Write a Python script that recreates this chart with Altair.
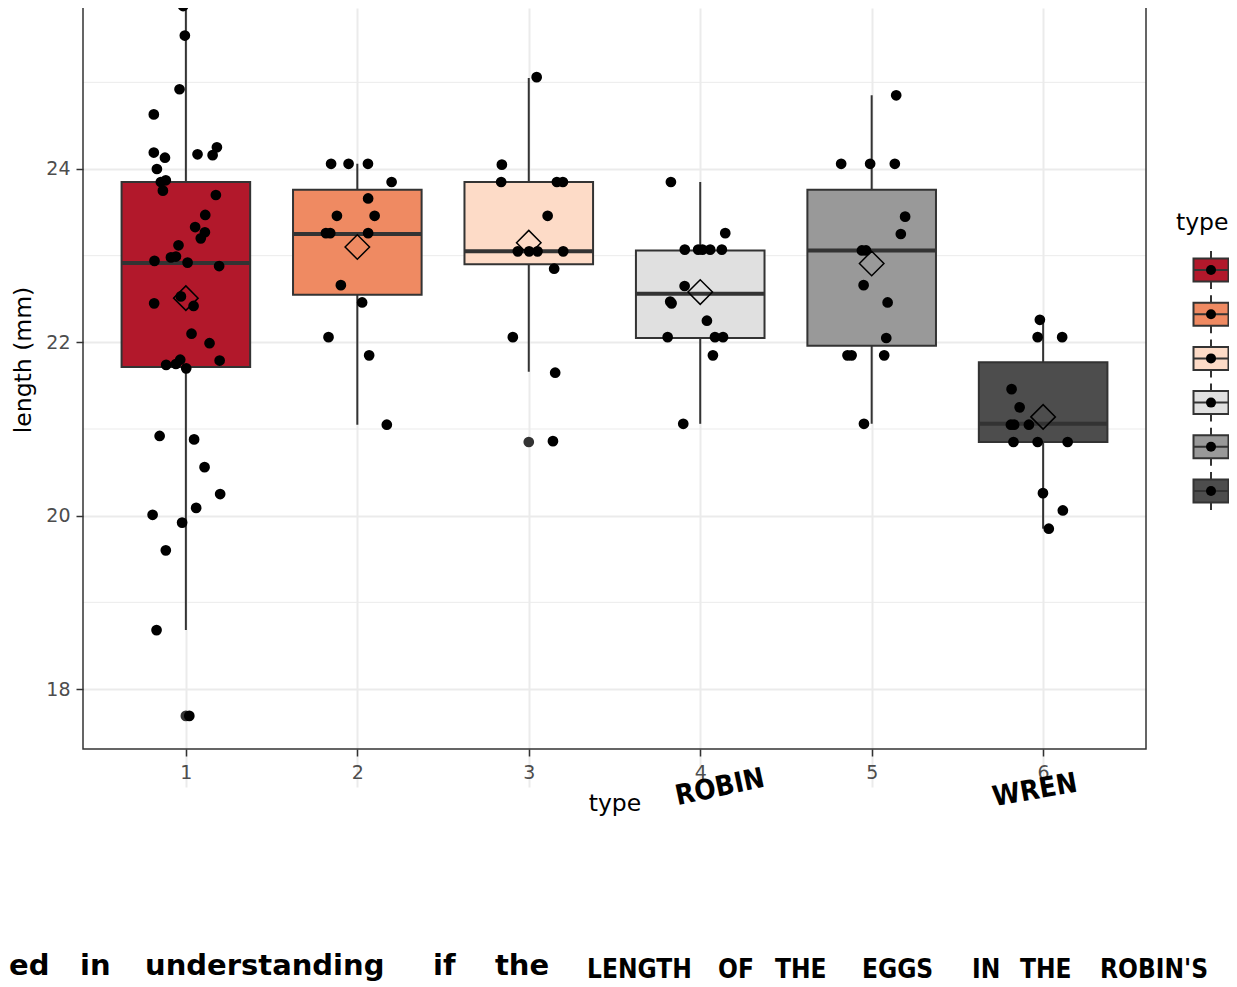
import altair as alt
import pandas as pd

# ---------------- data ----------------
types = [1, 2, 3, 4, 5, 6]
fill_colors = ["#B2182B", "#EF8A62", "#FDDBC7", "#E0E0E0", "#999999", "#4D4D4D"]

# jittered observations: x position (in category units) and egg length (mm)
x_1 = [0.984, 0.994, 0.963, 0.813, 0.813, 0.878, 1.068, 1.156, 1.181, 0.831, 0.854, 0.883, 0.866, 1.175, 1.113,
       1.054, 1.111, 1.087, 0.957, 0.913, 0.942, 0.817, 1.010, 1.194, 0.971, 0.815, 1.045, 1.033, 1.138, 1.197,
       0.885, 0.942, 0.967, 1.002, 0.847, 1.048, 1.109, 1.200, 1.060, 0.806, 0.978, 0.883, 0.829, 1.020]
len_1 = [25.88, 25.54, 24.92, 24.63, 24.19, 24.13, 24.17, 24.16, 24.25, 24.00, 23.85, 23.87, 23.75, 23.70, 23.47,
         23.33, 23.27, 23.20, 23.12, 22.98, 22.99, 22.94, 22.92, 22.88, 22.53, 22.45, 22.42, 22.10, 21.99, 21.79,
         21.74, 21.75, 21.80, 21.70, 20.92, 20.88, 20.56, 20.25, 20.09, 20.01, 19.92, 19.60, 18.68, 17.69]
x_2 = [1.847, 1.949, 2.062, 2.200, 2.063, 1.881, 2.101, 1.817, 1.842, 2.063, 1.904, 2.028, 1.832, 2.069, 2.172]
len_2 = [24.06, 24.06, 24.06, 23.85, 23.66, 23.46, 23.46, 23.26, 23.26, 23.26, 22.66, 22.46, 22.06, 21.85, 21.05]
x_3 = [3.046, 2.843, 2.839, 3.164, 3.199, 3.110, 2.936, 3.002, 3.051, 3.201, 3.148, 2.907, 3.154, 3.141]
len_3 = [25.06, 24.05, 23.85, 23.85, 23.85, 23.46, 23.05, 23.05, 23.05, 23.05, 22.85, 22.06, 21.65, 20.86]
x_4 = [3.829, 4.146, 3.910, 3.988, 4.013, 4.058, 4.126, 3.909, 3.825, 3.833, 4.039, 3.810, 4.086, 4.133, 4.074, 3.901]
len_4 = [23.85, 23.26, 23.07, 23.07, 23.07, 23.07, 23.07, 22.65, 22.47, 22.45, 22.25, 22.06, 22.06, 22.06, 21.85, 21.06]
x_5 = [5.143, 4.822, 4.991, 5.135, 5.195, 5.170, 4.943, 4.967, 4.953, 5.093, 5.085, 4.859, 4.883, 5.073, 4.955]
len_5 = [24.85, 24.06, 24.06, 24.06, 23.45, 23.25, 23.06, 23.06, 22.66, 22.46, 22.05, 21.85, 21.85, 21.85, 21.06]
x_6 = [5.981, 5.968, 6.111, 5.816, 5.863, 5.812, 5.831, 5.917, 5.827, 5.968, 6.143, 5.999, 6.115, 6.033]
len_6 = [22.26, 22.06, 22.06, 21.46, 21.25, 21.05, 21.05, 21.05, 20.85, 20.85, 20.85, 20.26, 20.06, 19.85]

# box statistics
whisker_low = [18.68, 21.05, 21.66, 21.06, 21.06, 19.85]
q1 = [21.715, 22.55, 22.90, 22.05, 21.96, 20.85]
median = [22.915, 23.25, 23.05, 22.56, 23.06, 21.06]
q3 = [23.85, 23.76, 23.85, 23.06, 23.76, 21.77]
whisker_high = [25.88, 24.06, 25.05, 23.85, 24.85, 22.26]
means = [22.51, 23.10, 23.15, 22.58, 22.91, 21.14]

# boxplot outliers
outlier_type = [1, 3]
outlier_len = [17.69, 20.85]

y_major = [18, 20, 22, 24, 26]
y_minor = [19, 21, 23, 25]

# ---------------- tables ----------------
xs = [x_1, x_2, x_3, x_4, x_5, x_6]
ls = [len_1, len_2, len_3, len_4, len_5, len_6]
rows = []
for t, xv, lv in zip(types, xs, ls):
    for a, b in zip(xv, lv):
        rows.append({"type": t, "xj": a, "length": b})
pts = pd.DataFrame(rows)
boxes = pd.DataFrame({"type": types, "lo": whisker_low, "q1": q1, "med": median,
                      "q3": q3, "hi": whisker_high, "mean": means})
outl = pd.DataFrame({"type": outlier_type, "length": outlier_len})
minor_df = pd.DataFrame({"v": y_minor})
leg_df = pd.DataFrame({"type": types})

# ---------------- scales / axes ----------------
W, H = 1063, 741
FONT = "DejaVu Sans"
xscale = alt.Scale(domain=[0.4, 6.6], nice=False, zero=False)
yscale = alt.Scale(domain=[17.308, 26.296], range=[741, -38], nice=False, zero=False)
fill_scale = alt.Scale(domain=types, range=fill_colors)

xaxis = alt.Axis(values=types, format="d", grid=True, gridColor="#EBEBEB", gridWidth=2,
                 domain=False, tickColor="#333333", tickWidth=1.5, tickSize=7,
                 labelColor="#4D4D4D", labelFontSize=19, labelFont=FONT, labelPadding=7,
                 titleFontSize=23.5, titleFont=FONT, titleColor="black", titleFontWeight="normal",
                 titlePadding=9)
yaxis = alt.Axis(values=y_major, format="d", grid=True, gridColor="#EBEBEB", gridWidth=2,
                 domain=False, tickColor="#333333", tickWidth=1.5, tickSize=7,
                 labelColor="#4D4D4D", labelFontSize=19, labelFont=FONT, labelPadding=6,
                 titleFontSize=23.5, titleFont=FONT, titleColor="black", titleFontWeight="normal",
                 titlePadding=10)


def X(f):
    return alt.X(f, scale=xscale, axis=xaxis, title="type")


def Y(f):
    return alt.Y(f, scale=yscale, axis=yaxis, title="length (mm)")


minor = alt.Chart(minor_df).mark_rule(color="#EBEBEB", strokeWidth=1).encode(y=Y("v:Q"))

whisk = alt.Chart(boxes).mark_rule(color="#333333", strokeWidth=2).encode(
    x=X("type:Q"), y=Y("lo:Q"), y2="hi:Q")

box = alt.Chart(boxes).transform_calculate(
    xl="datum.type - 0.375", xr="datum.type + 0.375"
).mark_rect(stroke="#333333", strokeWidth=2).encode(
    x=X("xl:Q"), x2="xr:Q", y=Y("q1:Q"), y2="q3:Q",
    fill=alt.Fill("type:N", scale=fill_scale, legend=None))

med = alt.Chart(boxes).transform_calculate(
    xl="datum.type - 0.375", xr="datum.type + 0.375"
).mark_rule(color="#333333", strokeWidth=4).encode(x=X("xl:Q"), x2="xr:Q", y=Y("med:Q"))

outliers = alt.Chart(outl).mark_circle(size=115, color="#333333", opacity=1).encode(
    x=X("type:Q"), y=Y("length:Q"))

mean_pts = alt.Chart(boxes).mark_point(shape="diamond", size=600, filled=False,
                                       color="black", strokeWidth=1.5, opacity=1).encode(
    x=X("type:Q"), y=Y("mean:Q"))

points = alt.Chart(pts).mark_circle(size=115, color="black", opacity=1).encode(
    x=X("xj:Q"), y=Y("length:Q"))

border = alt.Chart(pd.DataFrame({"a": [0]})).mark_rect(
    fill="transparent", stroke="#333333", strokeWidth=1.5).encode(
    x=alt.value(0), x2=alt.value(W), y=alt.value(-38), y2=alt.value(H))


def note(txt, page_x, page_y, size, font, weight="normal", angle=0, align="left",
         baseline="alphabetic"):
    kw = dict(font=font, fontSize=size, fontWeight=weight, align=align,
              baseline=baseline, color="black")
    if angle:
        kw["angle"] = angle
    return alt.Chart(pd.DataFrame({"t": [txt]})).mark_text(**kw).encode(
        text="t:N", x=alt.value(page_x - 83), y=alt.value(page_y - 8))


HAND = "DejaVu Sans Condensed"
robin = note("ROBIN", 720, 788, 28, HAND, "bold", 348, "center", "middle")
wren = note("WREN", 1035, 791, 28, HAND, "bold", 350, "center", "middle")

caption_lower = [("ed", 9), ("in", 80), ("understanding", 145), ("if", 433), ("the", 495)]
caption_upper = [("LENGTH", 587), ("OF", 718), ("THE", 775), ("EGGS", 862),
                 ("IN", 972), ("THE", 1020), ("ROBIN'S", 1100)]
caption = [note(w, px, 975, 29, "DejaVu Sans", "bold") for w, px in caption_lower] + \
          [note(w, px, 978, 26, HAND, "bold") for w, px in caption_upper]

main = alt.layer(minor, whisk, box, med, outliers, mean_pts, points, border,
                 robin, wren, *caption)

# ---------------- hand-made legend ----------------
leg_y = alt.Y("type:O", scale=alt.Scale(type="point", domain=types, range=[262, 483], padding=0),
              axis=None)
glyph_path = ("M-1,-0.657L1,-0.657L1,0.657L-1,0.657Z M-1,0L1,0 "
              "M0,-1.086L0,-0.657 M0,0.657L0,1.086")
leg_glyph = alt.Chart(leg_df).mark_point(shape=glyph_path, size=1225, filled=True,
                                         stroke="#333333", strokeWidth=2, opacity=1).encode(
    x=alt.value(1128), y=leg_y, fill=alt.Fill("type:N", scale=fill_scale, legend=None))
leg_dot = alt.Chart(leg_df).mark_circle(size=100, color="black", opacity=1).encode(
    x=alt.value(1128), y=leg_y)
leg_title = note("type", 1176, 230, 23.5, FONT)

legend = alt.layer(leg_glyph, leg_dot, leg_title)

chart = alt.layer(main, legend).resolve_scale(y="independent").properties(
    width=W, height=H,
    autosize=alt.AutoSizeParams(type="none"),
    padding={"left": 75, "top": 0, "right": 83, "bottom": 234},
    background="white",
).configure_view(stroke=None)

chart.save("out.html", embed_options={"renderer": "svg", "actions": False})
